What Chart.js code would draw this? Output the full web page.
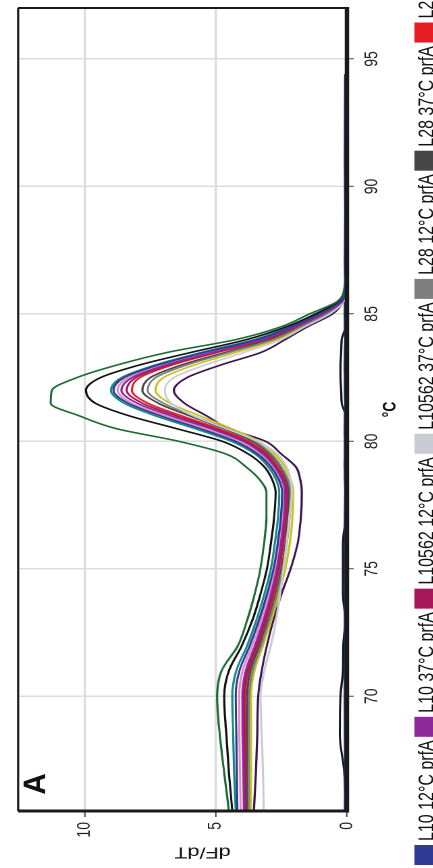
<!DOCTYPE html>
<html>
<head>
<meta charset="utf-8">
<script src="https://cdn.jsdelivr.net/npm/chart.js@4.4.1/dist/chart.umd.min.js"></script>
<style>
  html, body { margin: 0; padding: 0; background: #fff; overflow: hidden; }
  body { width: 433px; height: 868px; position: relative; }
  /* chart is drawn lying down, then turned and stretched like the scanned figure */
  #wrap {
    position: absolute; left: 0; top: 0; width: 868px; height: 334px;
    transform-origin: 0 0;
    transform: translate(0px, 868px) rotate(-90deg) scale(1, 1.35);
  }
</style>
</head>
<body>
<div id="wrap"><canvas id="meltChart" width="868" height="334"></canvas></div>
<script>
// --- data (°C / dF/dT) ---
const temps = [65.5, 67, 68.5, 70, 71, 72, 73, 74, 75, 76, 77, 78, 78.5, 79, 79.5, 80, 80.5, 81, 81.5, 82, 82.5, 83, 83.5, 84, 84.5, 85, 85.5, 86, 87, 89, 91, 94.4];

const l10_12 = [4.18, 4.2, 4.22, 4.24, 4.1, 3.7, 3.35, 3.05, 2.8, 2.64, 2.52, 2.47, 2.6, 2.9, 3.4, 4.25, 5.6, 7.1, 8.35, 8.9, 8.5, 7.2, 5.4, 3.4, 2.1, 1.05, 0.22, 0.06, 0.03, 0.02, 0.01, 0.01];
const l10_37 = [3.93, 3.95, 3.98, 3.99, 3.86, 3.5, 3.18, 2.9, 2.67, 2.52, 2.4, 2.35, 2.47, 2.75, 3.2, 3.95, 5.2, 6.7, 8.0, 8.6, 8.2, 6.9, 5.1, 3.2, 2.0, 0.95, 0.18, 0.05, 0.03, 0.02, 0.01, 0.01];
const l10562_12 = [3.88, 3.9, 3.92, 3.93, 3.8, 3.45, 3.12, 2.85, 2.62, 2.46, 2.35, 2.3, 2.42, 2.7, 3.12, 3.85, 5.05, 6.5, 7.8, 8.4, 8.05, 6.8, 5.0, 3.15, 1.95, 0.92, 0.17, 0.05, 0.03, 0.02, 0.01, 0.01];
const l10562_37 = [3.17, 3.2, 3.25, 3.3, 3.15, 2.9, 2.7, 2.55, 2.42, 2.3, 2.2, 2.1, 2.15, 2.3, 2.65, 3.4, 4.6, 5.85, 6.7, 6.95, 6.6, 5.4, 3.9, 2.5, 1.6, 0.65, 0.12, 0.04, 0.02, 0.02, 0.01, 0.01];
const l28_12 = [3.74, 3.74, 3.74, 3.73, 3.6, 3.27, 2.95, 2.67, 2.45, 2.29, 2.19, 2.15, 2.25, 2.5, 2.88, 3.5, 4.55, 5.85, 7.0, 7.6, 7.3, 6.1, 4.45, 2.8, 1.75, 0.78, 0.14, 0.04, 0.02, 0.02, 0.01, 0.01];
const l28_37 = [3.8, 3.8, 3.8, 3.8, 3.68, 3.33, 3.0, 2.72, 2.5, 2.34, 2.25, 2.2, 2.3, 2.55, 2.95, 3.6, 4.7, 6.0, 7.2, 7.8, 7.5, 6.3, 4.6, 2.9, 1.8, 0.82, 0.15, 0.05, 0.03, 0.02, 0.01, 0.01];
const l2_12 = [3.85, 3.86, 3.87, 3.88, 3.75, 3.4, 3.08, 2.8, 2.58, 2.42, 2.31, 2.27, 2.38, 2.65, 3.05, 3.75, 4.9, 6.3, 7.6, 8.2, 7.9, 6.65, 4.9, 3.05, 1.9, 0.9, 0.16, 0.05, 0.03, 0.02, 0.01, 0.01];
const l2_37 = [4.5, 4.68, 4.85, 4.95, 4.78, 4.15, 3.8, 3.52, 3.3, 3.16, 3.07, 3.07, 3.33, 3.85, 4.6, 6.4, 8.8, 10.2, 11.3, 11.25, 10.3, 8.75, 6.8, 4.2, 2.5, 1.42, 0.35, 0.1, 0.03, 0.02, 0.02, 0.01];
const l6_12 = [4.37, 4.5, 4.6, 4.68, 4.5, 4.0, 3.6, 3.3, 3.05, 2.9, 2.78, 2.72, 2.85, 3.15, 3.75, 4.75, 6.5, 8.3, 9.6, 9.95, 9.4, 7.9, 5.9, 3.8, 2.3, 1.2, 0.3, 0.08, 0.03, 0.02, 0.01, 0.01];
const l6_37 = [4.24, 4.3, 4.34, 4.37, 4.22, 3.8, 3.45, 3.15, 2.9, 2.75, 2.63, 2.58, 2.7, 3.0, 3.5, 4.4, 5.8, 7.3, 8.5, 9.0, 8.6, 7.3, 5.5, 3.5, 2.15, 1.1, 0.25, 0.07, 0.03, 0.02, 0.01, 0.01];
const l9_12 = [4.05, 4.08, 4.1, 4.11, 3.98, 3.6, 3.27, 2.98, 2.74, 2.58, 2.46, 2.41, 2.53, 2.82, 3.3, 4.1, 5.4, 6.9, 8.2, 8.75, 8.35, 7.05, 5.25, 3.3, 2.05, 1.0, 0.2, 0.06, 0.03, 0.02, 0.01, 0.01];
const l9_37 = [3.67, 3.66, 3.66, 3.66, 3.53, 3.2, 2.88, 2.6, 2.35, 2.18, 2.08, 2.05, 2.15, 2.38, 2.75, 3.35, 4.4, 5.6, 6.75, 7.3, 7.0, 5.8, 4.2, 2.65, 1.7, 0.72, 0.13, 0.04, 0.02, 0.02, 0.01, 0.01];
const egd_37 = [3.55, 3.47, 3.42, 3.38, 3.25, 3.05, 2.8, 2.5, 2.15, 1.88, 1.76, 1.72, 1.78, 1.95, 2.5, 3.1, 4.5, 5.35, 6.2, 6.6, 6.1, 4.8, 3.25, 2.35, 1.5, 0.55, 0.13, 0.04, 0.02, 0.01, 0.01, 0.01];
const ntc_a = [0.08, 0.07, 0.08, 0.09, 0.08, 0.07, 0.08, 0.07, 0.08, 0.07, 0.08, 0.07, 0.08, 0.09, 0.08, 0.08, 0.09, 0.08, 0.07, 0.08, 0.08, 0.09, 0.08, 0.07, 0.08, 0.09, 0.08, 0.07, 0.08, 0.07, 0.08, 0.07];
const ntc_b = [0.05, 0.1, 0.27, 0.25, 0.15, 0.14, 0.06, 0.15, 0.15, 0.15, 0.05, 0.04, 0.05, 0.05, 0.05, 0.04, 0.05, 0.05, 0.2, 0.22, 0.25, 0.25, 0.22, 0.2, 0.05, 0.04, 0.05, 0.04, 0.05, 0.04, 0.05, 0.04];

const seriesLabels = ["L10 12°C prfA", "L10 37°C prfA", "L10562 12°C prfA", "L10562 37°C prfA", "L28 12°C prfA", "L28 37°C prfA",
  "L2 12°C prfA", "L2 37°C prfA", "L6 12°C prfA", "L6 37°C prfA", "L9 12°C prfA", "L9 37°C prfA", "EGD 37°C prfA", "NTC", "NTC 2"];
const seriesValues = [l10_12, l10_37, l10562_12, l10562_37, l28_12, l28_37, l2_12, l2_37, l6_12, l6_37, l9_12, l9_37, egd_37, ntc_a, ntc_b];
const seriesColors = ["#2e3a93", "#8e2a9c", "#a8175b", "#cbcbd6", "#7f7f7f", "#474747", "#e51d23",
  "#1d6b35", "#111111", "#168a8a", "#e58ac0", "#c8c21a", "#3b1450", "#1f2a7a", "#151515"];

const X_MIN = 65.5, X_MAX = 97, Y_MAX = 12.54;
const FONT = '"Liberation Sans", Arial, sans-serif';

// --- datasets ---
const datasets = seriesValues.map((vals, i) => ({
  label: seriesLabels[i],
  data: vals.map((v, j) => ({ x: temps[j], y: v })),
  borderColor: seriesColors[i],
  backgroundColor: seriesColors[i],
  borderWidth: 1.6,
  pointRadius: 0,
  fill: false,
  cubicInterpolationMode: "monotone",
}));

// --- legend across the bottom edge (runs off the page like the scan) ---
const stripLegend = {
  id: "stripLegend",
  afterDraw(chart) {
    const ctx = chart.ctx;
    ctx.save();
    ctx.font = "16px " + FONT;
    ctx.textBaseline = "alphabetic";
    let x = 3;
    chart.data.datasets.forEach((ds) => {
      ctx.fillStyle = ds.borderColor;
      ctx.fillRect(x, 307, 20, 18);
      ctx.fillStyle = "#111";
      ctx.fillText(ds.label, x + 24, 321);
      x += 24 + ctx.measureText(ds.label).width + 3.5;
    });
    ctx.restore();
  },
};

// --- plot frame, panel letter and y title ---
const framePlugin = {
  id: "framePlugin",
  afterDatasetsDraw(chart) {
    const { ctx, chartArea: a } = chart;
    ctx.save();
    ctx.strokeStyle = "#1a1a1a";
    ctx.lineWidth = 1.6;
    ctx.beginPath(); ctx.moveTo(a.left, a.top); ctx.lineTo(a.right, a.top); ctx.stroke();
    ctx.lineWidth = 2;
    ctx.beginPath(); ctx.moveTo(a.right, a.top); ctx.lineTo(a.right, a.bottom); ctx.stroke();
    ctx.lineWidth = 3;
    ctx.beginPath(); ctx.moveTo(a.left, a.top); ctx.lineTo(a.left, a.bottom + 1.5); ctx.stroke();
    ctx.lineWidth = 3.3;
    ctx.beginPath(); ctx.moveTo(a.left - 1.5, a.bottom); ctx.lineTo(a.right + 1, a.bottom); ctx.stroke();
    ctx.restore();
  },
  afterDraw(chart) {
    const ctx = chart.ctx;
    ctx.save();
    ctx.fillStyle = "#111";
    // panel letter
    ctx.translate(84, 27);
    ctx.scale(1.3, 1);
    ctx.font = "bold 23px " + FONT;
    ctx.textAlign = "center";
    ctx.textBaseline = "middle";
    ctx.fillText("A", 0, 0);
    ctx.restore();

    ctx.save();
    ctx.fillStyle = "#111";
    ctx.translate(16, 150);
    ctx.rotate(-Math.PI / 2);
    ctx.font = "16px " + FONT;
    ctx.textAlign = "center";
    ctx.textBaseline = "middle";
    ctx.fillText("dF/dT", 0, 0);
    ctx.restore();
  },
};

new Chart(document.getElementById("meltChart"), {
  type: "line",
  data: { datasets },
  plugins: [framePlugin, stripLegend],
  options: {
    responsive: false,
    animation: false,
    devicePixelRatio: 2,
    layout: { padding: { left: 0, right: 8, top: 11.85, bottom: 0 } },
    plugins: { legend: { display: false }, tooltip: { enabled: false } },
    scales: {
      x: {
        type: "linear",
        min: X_MIN,
        max: X_MAX,
        ticks: { stepSize: 5, includeBounds: false, color: "#222", padding: 5, font: { family: FONT, size: 14 } },
        grid: { color: "#dcdcdc", lineWidth: 1.5, tickLength: 5, tickColor: "#444", tickWidth: 1 },
        border: { display: false },
        title: { display: true, text: "°C", color: "#111", font: { family: FONT, size: 14, weight: "bold" }, padding: { top: 0, bottom: 36.6 } },
        afterFit: (s) => { s.height = 77; },
      },
      y: {
        min: 0,
        max: Y_MAX,
        ticks: { stepSize: 5, includeBounds: false, color: "#222", padding: 5, font: { family: FONT, size: 14 } },
        grid: { color: "#dcdcdc", lineWidth: 1.8, tickLength: 6, tickColor: "#444", tickWidth: 1 },
        border: { display: false },
        afterFit: (s) => { s.width = 57; },
      },
    },
  },
});
</script>
</body>
</html>
